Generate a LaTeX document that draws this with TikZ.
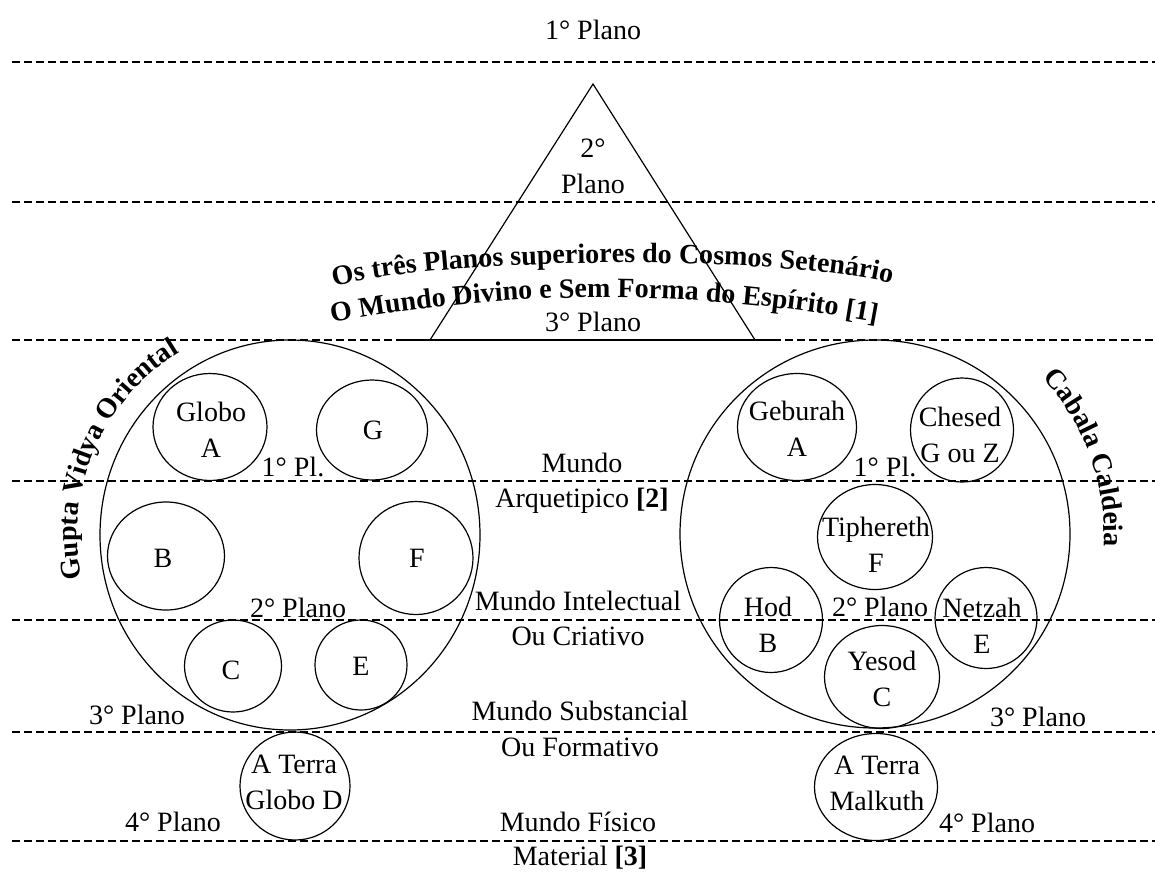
\documentclass[tikz,border=0pt]{standalone}
\usepackage{fontspec}
\setmainfont{Liberation Serif}
\usetikzlibrary{shapes.geometric,decorations.text}
\begin{document}
\begin{tikzpicture}[x=1pt,y=-1pt,
  sep/.style={line width=1.2pt, dash pattern=on 8pt off 4pt},
  solidline/.style={line width=1.2pt},
  orb/.style={draw, ellipse, line width=1.2pt, inner sep=0pt},
  lbl/.style={font=\fontsize{28}{36}\selectfont, align=center, inner sep=0pt},
  arctext/.style={decorate, decoration={text along path, text align=center, text={|\fontsize{28}{30}\selectfont\bfseries|#1}}}
]
\fill[white] (0,0) rectangle (1155,873);
\useasboundingbox (0,0) rectangle (1155,873);

% plane separators
\coordinate (s1a) at (12,62);   \coordinate (s1b) at (1155,62);
\coordinate (s2a) at (12,202);  \coordinate (s2b) at (1155,202);
\coordinate (s3a) at (12,340);  \coordinate (s3b) at (403,340);
\coordinate (s3c) at (773,340); \coordinate (s3d) at (1155,340);
\coordinate (s4a) at (12,481);  \coordinate (s4b) at (1155,481);
\coordinate (s5a) at (12,620);  \coordinate (s5b) at (1155,620);
\coordinate (s6a) at (12,732);  \coordinate (s6b) at (1155,732);
\coordinate (s7a) at (12,841);  \coordinate (s7b) at (1155,841);
\draw[sep] (s1a) -- (s1b);
\draw[sep] (s2a) -- (s2b);
\draw[sep] (s3a) -- (s3b);
\draw[solidline] (s3b) -- (s3c);
\draw[sep] (s3c) -- (s3d);
\draw[sep] (s4a) -- (s4b);
\draw[sep] (s5a) -- (s5b);
\draw[sep] (s6a) -- (s6b);
\draw[sep] (s7a) -- (s7b);

% triangle
\coordinate (apex) at (593,84);
\coordinate (tbl) at (430,340);
\coordinate (tbr) at (755,340);
\draw[solidline] (tbl) -- (apex) -- (tbr);

\node[lbl] (p1) at (593,30) {1° Plano};
\node[lbl] (p2) at (593,166) {2°\\Plano};
\node[lbl] (p3) at (593,322) {3° Plano};

% arched titles
\path[arctext={Os três Planos superiores do Cosmos Setenário}]
  (318,291) .. controls (420,255) and (805,253) .. (907,288);
\path[arctext={O Mundo Divino e Sem Forma do Espírito [1]}]
  (315,326) .. controls (505,288) and (700,288) .. (893,326);

% middle column
\node[lbl] (m1) at (582,463) {Mundo};
\node[lbl] (m2) at (582,501) {Arquetipico \textbf{[2]}};
\node[lbl] (m3) at (578,601) {Mundo Intelectual};
\node[lbl] (m4) at (578,636) {Ou Criativo};
\node[lbl] (m5) at (580,711) {Mundo Substancial};
\node[lbl] (m6) at (580,747) {Ou Formativo};
\node[lbl] (m7) at (578,822) {Mundo Físico};
\node[lbl] (m8) at (580,858) {Material \textbf{[3]}};

% left system
\node[orb, minimum width=380pt, minimum height=390pt] (gbig) at (290,535) {};
\node[orb, minimum width=114pt, minimum height=107pt] (gA) at (210,427) {};
\node[orb, minimum width=111pt, minimum height=100pt] (gG) at (372,430) {};
\node[orb, minimum width=117pt, minimum height=108pt] (gB) at (166,556) {};
\node[orb, minimum width=114pt, minimum height=113pt] (gF) at (416,558) {};
\node[orb, minimum width=97pt, minimum height=92pt] (gC) at (233,666) {};
\node[orb, minimum width=92pt, minimum height=90pt] (gE) at (361,665) {};
\node[orb, minimum width=110pt, minimum height=108pt] (gD) at (295,786) {};
\node[lbl] (tgA) at (211,430) {Globo\\A};
\node[lbl] (tgG) at (373,430) {G};
\node[lbl] (tgB) at (163,558) {B};
\node[lbl] (tgF) at (417,558) {F};
\node[lbl] (tgC) at (231,670) {C};
\node[lbl] (tgE) at (361,666) {E};
\node[lbl] (tgD) at (294,782) {A Terra\\Globo D};
\node[lbl] (gp1) at (293,467) {1° Pl.};
\node[lbl] (gp2) at (298,608) {2° Plano};
\node[lbl] (gp3) at (137,715) {3° Plano};
\node[lbl] (gp4) at (173,822) {4° Plano};
\path[arctext={Gupta Vidya Oriental}]
  (290,535) ++(-197:213) arc[start angle=-197, end angle=-116, radius=213];

% right system
\node[orb, minimum width=390pt, minimum height=388pt] (kbig) at (875,534) {};
\node[orb, minimum width=119pt, minimum height=107pt] (kA) at (797,427) {};
\node[orb, minimum width=103pt, minimum height=104pt] (kG) at (962,430) {};
\node[orb, minimum width=115pt, minimum height=105pt] (kF) at (875,537) {};
\node[orb, minimum width=103pt, minimum height=105pt] (kB) at (771,620) {};
\node[orb, minimum width=102pt, minimum height=101pt] (kE) at (986,618) {};
\node[orb, minimum width=115pt, minimum height=103pt] (kC) at (882,677) {};
\node[orb, minimum width=123pt, minimum height=107pt] (kD) at (876,787) {};
\node[lbl] (tkA) at (797,429) {Geburah\\A};
\node[lbl] (tkG) at (960,435) {Chesed\\G ou Z};
\node[lbl] (tkF) at (876,545) {Tiphereth\\F};
\node[lbl] (tkB) at (768,625) {Hod\\B};
\node[lbl] (tkE) at (982,626) {Netzah\\E};
\node[lbl] (tkC) at (882,679) {Yesod\\C};
\node[lbl] (tkD) at (877,783) {A Terra\\Malkuth};
\node[lbl] (kp1) at (885,467) {1° Pl.};
\node[lbl] (kp2) at (880,607) {2° Plano};
\node[lbl] (kp3) at (1038,717) {3° Plano};
\node[lbl] (kp4) at (987,823) {4° Plano};
\path[arctext={Cabala Caldeia}]
  (875,534) ++(-52:229) arc[start angle=-52, end angle=12, radius=229];
\end{tikzpicture}
\end{document}
